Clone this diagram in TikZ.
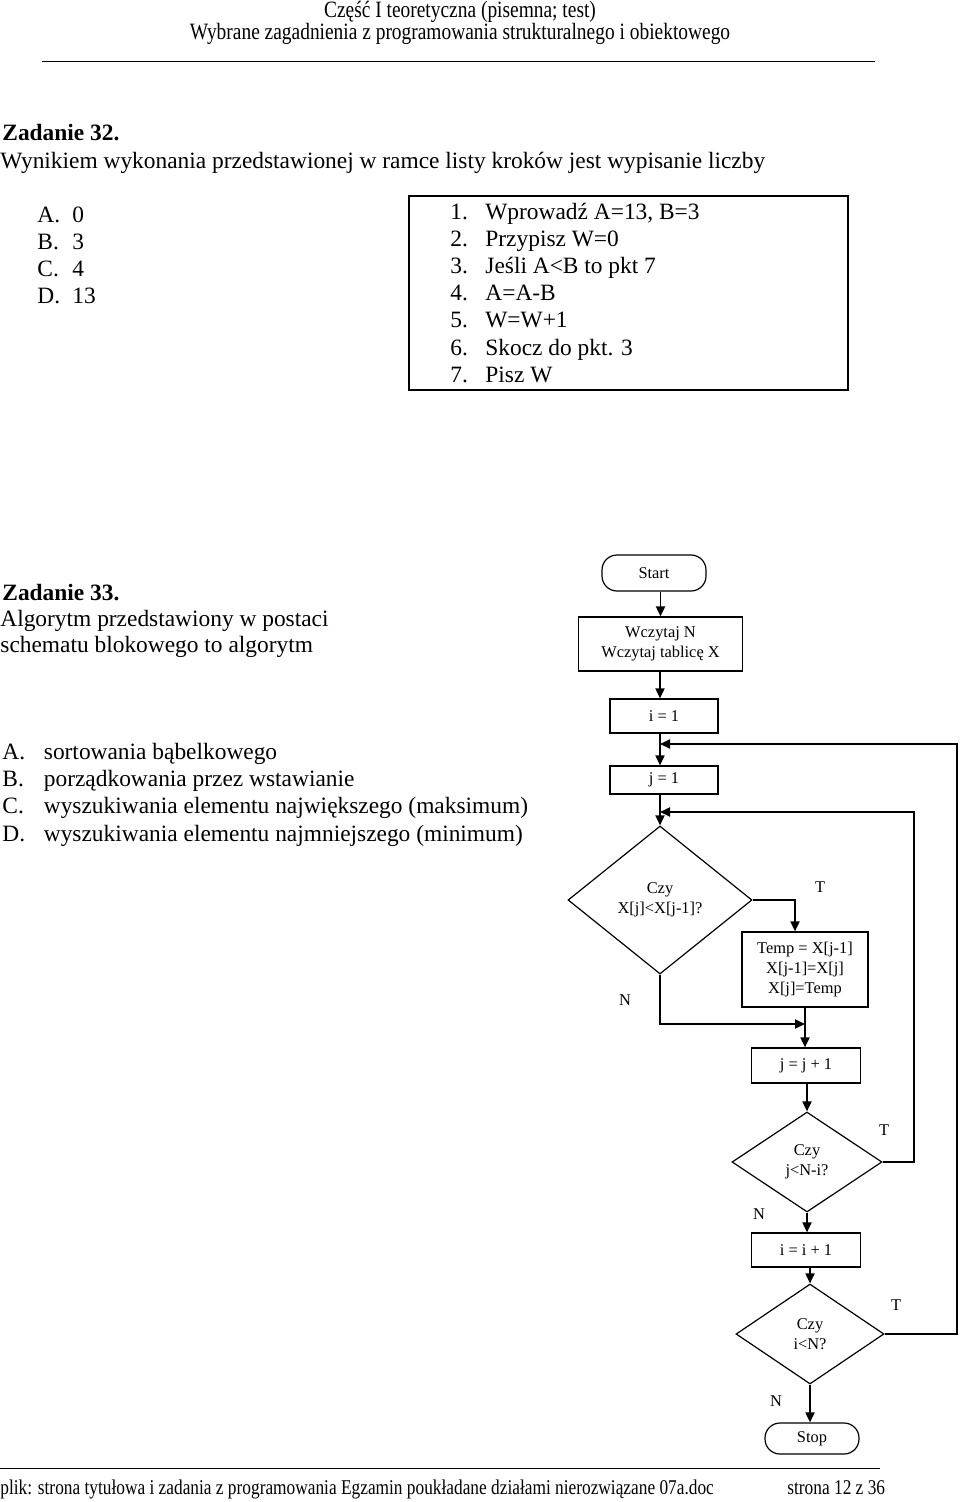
\documentclass[tikz,border=0pt]{standalone}
\usepackage{fontspec}
\setmainfont{Liberation Serif}
\usetikzlibrary{shapes.geometric}
\usetikzlibrary{arrows.meta}

\begin{document}
\begin{tikzpicture}[x=0.5pt, y=-0.5pt,
	txt/.style={anchor=base west, inner sep=0pt, font=\fontsize{11.7}{14}\selectfont},
	naglowek/.style={anchor=base, inner sep=0pt, font=\fontsize{11.7}{14}\selectfont},
	stopka/.style={anchor=base west, inner sep=0pt, font=\fontsize{10.5}{12}\selectfont},
	blok/.style={draw, line width=0.6pt, inner sep=0pt, align=center, font=\fontsize{8.2}{10}\selectfont},
	term/.style={blok, rounded corners=7.5pt},
	decyzja/.style={blok, diamond},
	etyk/.style={inner sep=0pt, font=\fontsize{8.2}{10}\selectfont},
	strz/.style={line width=0.9pt, -{Triangle[length=5pt, width=4.5pt]}}]

	\path[use as bounding box] (0,0) rectangle (960,1502);

	\node[naglowek] (H1) at (460,18) {\scalebox{0.83}[1]{Część I teoretyczna (pisemna; test)}};
	\node[naglowek] (H2) at (460,40) {\scalebox{0.83}[1]{Wybrane zagadnienia z programowania strukturalnego i obiektowego}};
	\draw[line width=0.5pt] (42,62) -- (875,62);

	\node[txt] (Z32) at (2,141) {\bfseries Zadanie 32.};
	\node[txt] (P32) at (0,169) {Wynikiem wykonania przedstawionej w ramce listy kroków jest wypisanie liczby};
	\foreach \lit/\odp [count=\k] in {A/0, B/3, C/4, D/13} {
		\node[txt] (L32\lit) at (37,195+27.2*\k) {\lit.};
		\node[txt] (O32\lit) at (72,195+27.2*\k) {\odp};
	}

	\node[draw, line width=1pt, minimum width=219.5pt, minimum height=97pt] (ramka) at (628.5,293) {};
	\foreach \tekst [count=\k] in {Wprowadź A=13{,} B=3, Przypisz W=0, Jeśli A<B to pkt 7, A=A-B, W=W+1, Skocz do pkt. 3, Pisz W} {
		\node[txt] (nr\k) at (450,192+27.2*\k) {\k.};
		\node[txt] (krok\k) at (485,192+27.2*\k) {\tekst};
	}

	\node[txt] (Z33) at (2,600) {\bfseries Zadanie 33.};
	\node[txt] (P33a) at (0,626) {Algorytm przedstawiony w postaci};
	\node[txt] (P33b) at (0,652) {schematu blokowego to algorytm};
	\foreach \lit/\odp [count=\k] in {A/sortowania bąbelkowego, B/porządkowania przez wstawianie, C/wyszukiwania elementu największego (maksimum), D/wyszukiwania elementu najmniejszego (minimum)} {
		\node[txt] (L33\lit) at (2,732+27.3*\k) {\lit.};
		\node[txt] (O33\lit) at (43.5,732+27.3*\k) {\odp};
	}

	\node[term, minimum width=52pt, minimum height=18pt] (start) at (654,573) {Start};
	\node[blok, minimum width=82pt, minimum height=27pt] (wczyt) at (660.5,644) {Wczytaj N\\Wczytaj tablicę X};
	\node[blok, minimum width=54pt, minimum height=17pt] (i1) at (664,716) {i = 1};
	\node[blok, minimum width=54pt, minimum height=14pt] (j1) at (664,780) {j = 1};
	\node[decyzja, minimum width=92pt, minimum height=74pt] (war1) at (660,900) {Czy\\X[j]<X[j-1]?};
	\node[blok, minimum width=63pt, minimum height=37.5pt] (zamiana) at (805,969.5) {Temp = X[j-1]\\X[j-1]=X[j]\\X[j]=Temp};
	\node[blok, minimum width=54.5pt, minimum height=17.5pt] (jinc) at (806,1065.5) {j = j + 1};
	\node[decyzja, minimum width=75pt, minimum height=50pt] (war2) at (807,1162) {Czy\\j<N-i?};
	\node[blok, minimum width=54.5pt, minimum height=17pt] (iinc) at (806,1250) {i = i + 1};
	\node[decyzja, minimum width=74pt, minimum height=50pt] (war3) at (810,1334) {Czy\\i<N?};
	\node[term, minimum width=47pt, minimum height=15.5pt] (stop) at (812,1438.5) {Stop};

	\node[etyk] (T1) at (820,887) {T};
	\node[etyk] (N1) at (625,1000) {N};
	\node[etyk] (T2) at (884,1130) {T};
	\node[etyk] (N2) at (759,1214) {N};
	\node[etyk] (T3) at (896,1305) {T};
	\node[etyk] (N3) at (776,1401) {N};

	\coordinate (wejI) at (660,744);
	\coordinate (wejJ) at (660,812);
	\coordinate (zbieg) at (805,1024);
	\coordinate (prawoJ) at (914,1162);
	\coordinate (prawoI) at (957,1334);

	\draw[strz] (start.south -| wczyt.north) -- (wczyt.north);
	\draw[strz] (wczyt.south -| war1.north) -- (i1.north -| war1.north);
	\draw[strz] (i1.south -| war1.north) -- (j1.north -| war1.north);
	\draw[strz] (j1.south -| war1.north) -- (war1.north);
	\draw[strz] (war1.east) -| ([xshift=-5pt]zamiana.north);
	\draw[strz] (war1.south) |- (zbieg);
	\draw[strz] (zamiana.south) -- (zamiana.south |- jinc.north);
	\draw[strz] (jinc.south -| war2.north) -- (war2.north);
	\draw[strz] (war2.south) -- (war2.south |- iinc.north);
	\draw[strz] (war2.east) -- (prawoJ) |- (wejJ);
	\draw[strz] (iinc.south -| war3.north) -- (war3.north);
	\draw[strz] (war3.south) -- (war3.south |- stop.north);
	\draw[strz] (war3.east) -- (prawoI) |- (wejI);

	\draw[line width=0.5pt] (0,1468) -- (880,1468);
	\node[stopka] (plik) at (0,1494) {\scalebox{0.825}[1]{plik: strona tytułowa i zadania z programowania Egzamin poukładane działami nierozwiązane 07a.doc}};
	\node[stopka] (strona) at (787,1494) {\scalebox{0.825}[1]{strona 12 z 36}};

\end{tikzpicture}
\end{document}
